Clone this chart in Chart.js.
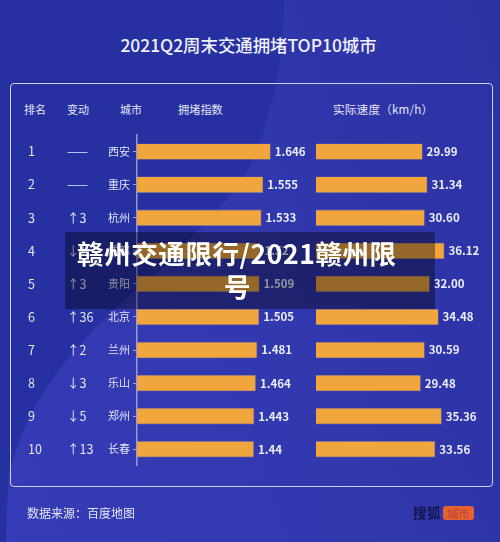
<!DOCTYPE html>
<html lang="zh"><head><meta charset="utf-8">
<style>
html,body{margin:0;padding:0;width:500px;height:542px;overflow:hidden;background:#2a32a2}
#page{position:relative;width:500px;height:542px;overflow:hidden;font-family:"Noto Sans CJK SC","Noto Sans",sans-serif;color:#e4e6f6;
background:#2630a0}
.abs{position:absolute;white-space:nowrap}
#light{position:absolute;left:0;top:0;width:500px;height:542px;
background:linear-gradient(70deg,#363bb6 0%,#3238ae 50%,#2c32a2 100%);
clip-path:path("M 284 0 C 284 60 272 120 250 165 C 240 185 232 195 220 207 L 160 270 C 100 320 30 380 8 480 L 6 542 L 500 542 L 500 0 Z")}
#panel{position:absolute;left:9.5px;top:83px;width:481px;height:402px;border:1.4px solid #ccd0f2;border-radius:4px;box-sizing:content-box}
canvas{position:absolute;top:0}
#band{position:absolute;left:65px;top:232px;width:370px;height:77px;background:rgba(0,0,10,.38)}
.big{font-weight:700;font-size:26.5px;color:#fff;letter-spacing:.6px;line-height:33px}
.hd{font-size:11px;line-height:16px;top:101px}
</style></head><body>
<div id="page">
<div id="light"></div>
<div class="abs" style="left:0;width:497px;top:33px;text-align:center;font-size:17.4px;font-weight:500;line-height:24px;color:#f0f1fb">2021Q2周末交通拥堵TOP10城市</div>
<div id="panel"></div>
<div class="abs hd" style="left:24px">排名</div>
<div class="abs hd" style="left:67px">变动</div>
<div class="abs hd" style="left:120px">城市</div>
<div class="abs hd" style="left:178px;font-size:11.2px">拥堵指数</div>
<div class="abs hd" style="left:333px;font-size:11.6px;letter-spacing:.2px">实际速度（km/h）</div>
<canvas id="left" width="316" height="542" style="left:0;width:316px;height:542px"></canvas>
<canvas id="right" width="184" height="542" style="left:316px;width:184px;height:542px"></canvas>
<div class="abs" style="left:27px;top:505px;font-size:12px;line-height:16px">数据来源：百度地图</div>
<div class="abs" style="left:413px;top:503px;font-size:13.5px;line-height:18px;font-weight:700;color:#14164f;letter-spacing:.5px">搜狐</div>
<div class="abs" style="left:443px;top:506px;width:31px;height:14px;border-radius:3px;background:#e8622f;color:#b8433e;font-size:11.5px;line-height:14px;text-align:center">城市</div>
<div id="band"></div>
<div class="abs big" style="left:77px;top:236px;">赣州交通限行/2021赣州限</div>
<div class="abs big" style="left:224px;top:269px;">号</div>
</div>
<script src="https://cdn.jsdelivr.net/npm/chart.js@4"></script>
<script>
const ranks=['1','2','3','4','5','6','7','8','9','10'];
const changes=['——','——','↑3','↓1','↑3','↑36','↑2','↓3','↓5','↑13'];
const cities=['西安','重庆','杭州','成都','贵阳','北京','兰州','乐山','郑州','长春'];
const congestion=[1.646,1.555,1.533,1.52,1.509,1.505,1.481,1.464,1.443,1.44];
const speed=[29.99,31.34,30.60,36.12,32.00,34.48,30.59,29.48,35.36,33.56];
const BAR='#f0a63c', TXT='#e4e6f6', FONT='"Noto Sans CJK SC","Noto Sans",sans-serif';
Chart.defaults.animation=false;
const valueLabels=(fmt)=>({id:'valueLabels',afterDatasetsDraw(c){
  const ctx=c.ctx;ctx.save();ctx.font='600 11.5px '+FONT;ctx.fillStyle='#eceefa';ctx.textBaseline='middle';ctx.textAlign='left';
  c.getDatasetMeta(0).data.forEach((b,i)=>ctx.fillText(fmt(c.data.datasets[0].data[i]),b.x+4,b.y));
  ctx.restore();}});
const sideColumns={id:'sideColumns',afterDraw(c){
  const ctx=c.ctx,y=c.scales.y;ctx.save();ctx.font='12.5px '+FONT;ctx.fillStyle=TXT;ctx.textBaseline='middle';ctx.textAlign='left';
  ranks.forEach((r,i)=>{const p=y.getPixelForValue(i);ctx.fillText(r,28,p);ctx.fillText(changes[i],67,p);});
  ctx.restore();}};
const base=(pad)=>({responsive:false,maintainAspectRatio:false,indexAxis:'y',devicePixelRatio:window.devicePixelRatio||1,
  layout:{padding:pad},plugins:{legend:{display:false},tooltip:{enabled:false},title:{display:false}}});
const ds=(d)=>[{data:d,backgroundColor:BAR,borderColor:'rgba(190,170,170,.55)',borderWidth:.6,barPercentage:.495,categoryPercentage:1}];
new Chart(document.getElementById('left'),{type:'bar',data:{labels:cities,datasets:ds(congestion)},
  options:{...base({top:135.1,bottom:76.2,left:0,right:16.6}),scales:{
    x:{display:false,min:0,max:2},
    y:{afterFit(s){s.width=137;},ticks:{color:TXT,font:{size:11,family:FONT},padding:3},
       grid:{offset:false,drawOnChartArea:false,drawTicks:true,tickLength:4,color:'rgba(205,208,240,.7)'},border:{color:'rgba(190,195,235,.7)',width:1.5}}}},
  plugins:[valueLabels(v=>String(v)),sideColumns]});
new Chart(document.getElementById('right'),{type:'bar',data:{labels:cities,datasets:ds(speed)},
  options:{...base({top:135.1,bottom:76.2,left:0,right:41.8}),scales:{
    x:{display:false,min:0,max:40},y:{display:false}}},
  plugins:[valueLabels(v=>v.toFixed(2))]});
</script></body></html>
